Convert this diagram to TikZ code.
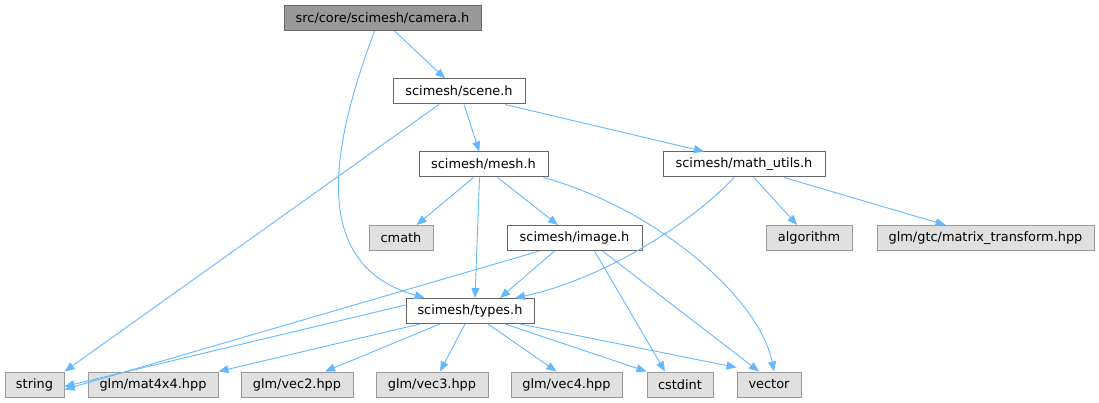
\documentclass[tikz,border=0pt]{standalone}
\usepackage{fontspec}
\setmainfont{DejaVu Sans}
\usepackage{tikz}
\usetikzlibrary{arrows.meta}
\definecolor{edgeblue}{HTML}{63B8FF}
\definecolor{curfill}{HTML}{999999}
\definecolor{extfill}{HTML}{E0E0E0}
\definecolor{boxline}{HTML}{666666}
\definecolor{extline}{HTML}{999999}

\begin{document}
\begin{tikzpicture}[x=1pt,y=-1pt,
  font=\fontsize{12.9}{15}\selectfont,
  hdr/.style={draw=boxline,fill=white,line width=1pt,minimum height=25pt,inner sep=0pt},
  ext/.style={draw=extline,fill=extfill,line width=1pt,minimum height=25pt,inner sep=0pt},
  edge/.style={draw=edgeblue,line width=0.9pt,-{Triangle[length=10pt,width=8pt]}}]
\useasboundingbox (0,0) rectangle (1099,403);
% 헤더
\node[hdr,fill=curfill,minimum width=197pt] (camera) at (382.5,18) {src/core/scimesh/camera.h};
\node[hdr,minimum width=132pt] (scene) at (459,91.5) {scimesh/scene.h};
\node[hdr,minimum width=129pt] (mesh) at (483.5,164.5) {scimesh/mesh.h};
\node[hdr,minimum width=162pt] (mathutils) at (744,164.5) {scimesh/math\_utils.h};
\node[hdr,minimum width=135pt] (image) at (574.5,238) {scimesh/image.h};
\node[hdr,minimum width=128pt] (types) at (470,311) {scimesh/types.h};
% 외부
\node[ext,minimum width=64pt] (cmath) at (401,238) {cmath};
\node[ext,minimum width=86pt] (algorithm) at (809,238) {algorithm};
\node[ext,minimum width=217pt] (mattrans) at (985.5,238) {glm/gtc/matrix\_transform.hpp};
\node[ext,minimum width=59pt] (string) at (34.5,384.5) {string};
\node[ext,minimum width=130pt] (mat4) at (153,384.5) {glm/mat4x4.hpp};
\node[ext,minimum width=112pt] (vec2) at (297,384.5) {glm/vec2.hpp};
\node[ext,minimum width=112pt] (vec3) at (432,384.5) {glm/vec3.hpp};
\node[ext,minimum width=111pt] (vec4) at (566.5,384.5) {glm/vec4.hpp};
\node[ext,minimum width=66pt] (cstdint) at (680,384.5) {cstdint};
\node[ext,minimum width=64pt] (vector) at (769,384.5) {vector};
% 연결
\draw[edge] ([xshift=12pt]camera.south) -- (scene);
\draw[edge] ([xshift=-8pt]camera.south) .. controls (330,150) and (310,265) .. (types);
\draw[edge] ([xshift=-20pt]scene.south) -- (string.north east);
\draw[edge] ([xshift=5pt]scene.south) -- (mesh);
\draw[edge] ([xshift=46pt]scene.south) -- ([xshift=-40pt]mathutils.north);
\draw[edge] ([xshift=-10pt]mesh.south) -- (cmath);
\draw[edge] ([xshift=-4pt]mesh.south) -- ([xshift=5pt]types.north);
\draw[edge] ([xshift=14pt]mesh.south) -- (image);
\draw[edge] ([xshift=60pt]mesh.south) .. controls (660,210) and (760,300) .. ([xshift=5pt]vector.north);
\draw[edge] ([xshift=-10pt]mathutils.south) .. controls (690,225) and (600,280) .. ([xshift=45pt]types.north);
\draw[edge] ([xshift=10pt]mathutils.south) -- (algorithm);
\draw[edge] ([xshift=40pt]mathutils.south) -- ([xshift=-40pt]mattrans.north);
\draw[edge] ([xshift=-35pt]image.south) -- ([yshift=-5pt]string.east);
\draw[edge] ([xshift=-20pt]image.south) -- ([xshift=30pt]types.north);
\draw[edge] ([xshift=20pt]image.south) -- ([xshift=-15pt]cstdint.north);
\draw[edge] ([xshift=28pt]image.south) -- ([xshift=-10pt]vector.north);
\draw[edge] ([yshift=6pt]types.west) -- ([yshift=-2pt]string.east);
\draw[edge] ([xshift=-50pt]types.south) -- (mat4.north east);
\draw[edge] ([xshift=-30pt]types.south) -- ([xshift=28pt]vec2.north);
\draw[edge] ([xshift=-5pt]types.south) -- ([xshift=8pt]vec3.north);
\draw[edge] ([xshift=18pt]types.south) -- ([xshift=-10pt]vec4.north);
\draw[edge] ([xshift=35pt]types.south) -- (cstdint.north west);
\draw[edge] ([xshift=50pt]types.south) -- ([yshift=4pt]vector.north west);
\end{tikzpicture}
\end{document}
